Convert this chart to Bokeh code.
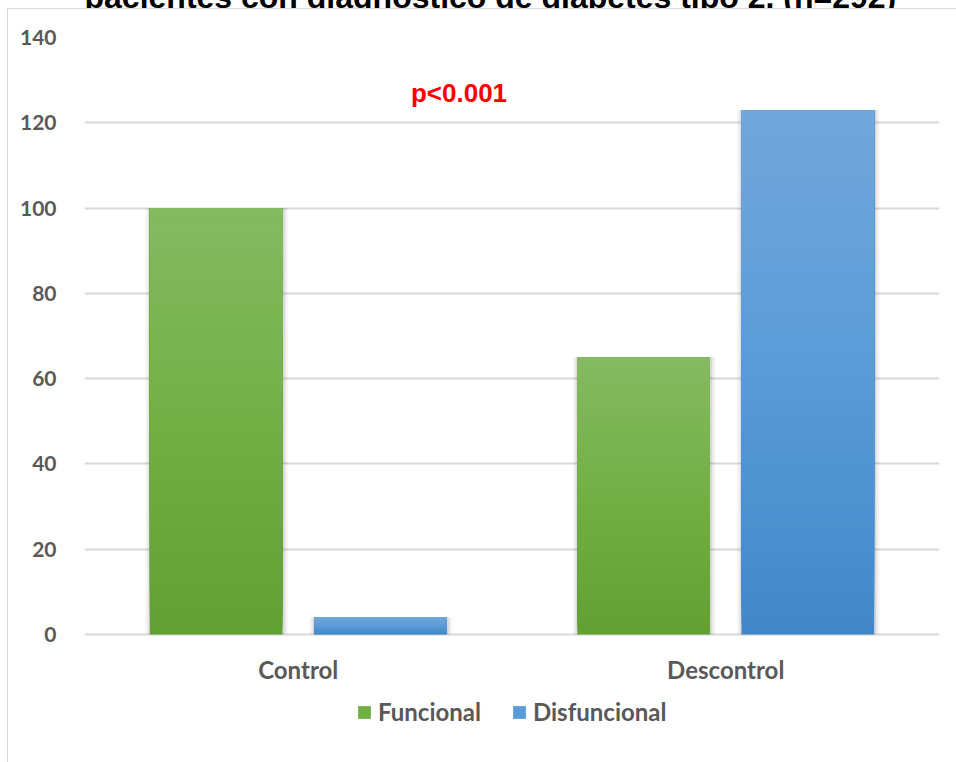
from bokeh.plotting import figure
from bokeh.models import (ColumnDataSource, FactorRange, FixedTicker, Label,
                          Legend, LegendItem, InlineStyleSheet)
from bokeh.transform import dodge
from bokeh.embed import file_html
from bokeh.resources import INLINE

# Control glucémico vs. función (n=292)
categories = ["Control", "Descontrol"]
funcional = [100, 65]
disfuncional = [4, 123]
y_ticks = [0, 20, 40, 60, 80, 100, 120, 140]
title_text = "pacientes con diagnóstico de diabetes tipo 2. (n=292)"
p_value_text = "p<0.001"

GREEN = ["#86ba63", "#72b046", "#62a034"]   # top, middle, bottom
BLUE = ["#73a7db", "#5a9bd8", "#4288c8"]

W, H = 956, 762
HIDDEN = 60          # the upper part of the title line sits above the page
TOP = 37             # pixel row of the 140 gridline
ZERO = 634           # pixel row of the baseline
Y_MAX = 140
# the frame runs down to the page bottom so the category labels and the
# legend sit inside it, under the baseline
Y_MIN = -(H - ZERO) * Y_MAX / (ZERO - TOP)

p = figure(width=W, height=H + HIDDEN, x_range=FactorRange(*categories),
           y_range=(Y_MIN, Y_MAX), output_backend="svg", toolbar_location=None,
           min_border_left=84, min_border_right=17, min_border_top=TOP + HIDDEN,
           min_border_bottom=0)
p.outline_line_color = None
p.background_fill_color = "white"
p.border_fill_color = "white"

p.title.text = title_text
p.title.align = "left"
p.title.offset = 0
p.title.standoff = 46
p.title.text_font = "Liberation Sans"
p.title.text_font_style = "bold"
p.title.text_font_size = "32px"
p.title.text_color = "black"

# chart-area box: left and top border lines with a white band under the top
# edge (it covers the title's descenders), plus the page offset
p.styles = {"margin-top": f"-{HIDDEN}px"}
p.stylesheets = [InlineStyleSheet(css=(
    ":host { position: relative; }"
    ":host::after { content: ''; position: absolute; pointer-events: none;"
    f" left: 7px; top: {8 + HIDDEN}px; right: 0; bottom: 0;"
    " border-left: 1.5px solid #d9d9d9; border-top: 1.5px solid #d9d9d9;"
    " background: linear-gradient(to bottom, white 0px, white 10px,"
    " transparent 10px) no-repeat; background-clip: padding-box; }"))]


def hex2rgb(h):
    return [int(h[i:i + 2], 16) for i in (1, 3, 5)]


def shade(stops, t):
    # t = 0 at the top of the bar, 1 at the bottom
    a, b, c = (hex2rgb(s) for s in stops)
    if t < 0.5:
        u = t / 0.5
        rgb = [a[k] + (b[k] - a[k]) * u for k in range(3)]
    else:
        u = (t - 0.5) / 0.5
        rgb = [b[k] + (c[k] - b[k]) * u for k in range(3)]
    return "#%02x%02x%02x" % tuple(int(round(v)) for v in rgb)


N_SLICES = 60


def gradient_source(values, stops, n=N_SLICES):
    cats, bottoms, tops, colors = [], [], [], []
    for cat, v in zip(categories, values):
        for i in range(n):
            cats.append(cat)
            bottoms.append(v * i / n)
            tops.append(v)
            colors.append(shade(stops, 1 - i / n))
    return ColumnDataSource(dict(cat=cats, bottom=bottoms, top=tops, color=colors))


BAR_W = 0.31
OFF = 0.192

# soft shadows behind the bars
for vals, off in ((funcional, -OFF), (disfuncional, OFF)):
    src = ColumnDataSource(dict(cat=categories, top=vals))
    for k, a in ((5, 0.04), (3, 0.05), (1.5, 0.07)):
        p.vbar(x=dodge("cat", off + 0.0012, range=p.x_range), top="top", bottom=0,
               width=BAR_W + k * 0.00234 * 2, source=src, fill_color="black",
               fill_alpha=a, line_color=None)

bars = []
for vals, stops, off in ((funcional, GREEN, -OFF), (disfuncional, BLUE, OFF)):
    bars.append(p.vbar(x=dodge("cat", off, range=p.x_range), top="top",
                       bottom="bottom", width=BAR_W,
                       source=gradient_source(vals, stops),
                       fill_color="color", line_color=None))

# legend under the category labels, positioned from the frame's bottom-left
legend = Legend(items=[LegendItem(label="Funcional", renderers=[bars[0]],
                                  index=N_SLICES // 2),
                       LegendItem(label="Disfuncional", renderers=[bars[1]],
                                  index=N_SLICES // 2)],
                orientation="horizontal", location=(272, 36),
                glyph_width=16, glyph_height=16, label_standoff=6, spacing=30,
                padding=0, margin=0, border_line_color=None,
                background_fill_alpha=0,
                label_text_font="Lato", label_text_font_style="bold",
                label_text_font_size="24px", label_text_color="#595959")
p.add_layout(legend, "center")

# axes: the category axis is pinned to the baseline
p.xaxis.fixed_location = 0
p.yaxis.ticker = FixedTicker(ticks=y_ticks)
for ax in (p.xaxis, p.yaxis):
    ax.axis_line_color = None
    ax.major_tick_line_color = None
    ax.minor_tick_line_color = None
    ax.major_label_text_font = "Lato"
    ax.major_label_text_font_style = "bold"
    ax.major_label_text_color = "#595959"
p.yaxis.major_label_text_font_size = "21px"
p.yaxis.major_label_standoff = 22
p.xaxis.major_label_text_font_size = "24px"
p.xaxis.major_label_standoff = 14

p.xgrid.grid_line_color = None
p.ygrid.grid_line_color = "#d9d9d9"
p.ygrid.grid_line_width = 2

p.add_layout(Label(x=0.876, y=127, text=p_value_text, text_align="center",
                   text_baseline="middle", text_font="Liberation Sans",
                   text_font_style="bold", text_font_size="26px",
                   text_color="#ff0000"))

open("out.html", "w").write(file_html(p, INLINE))
